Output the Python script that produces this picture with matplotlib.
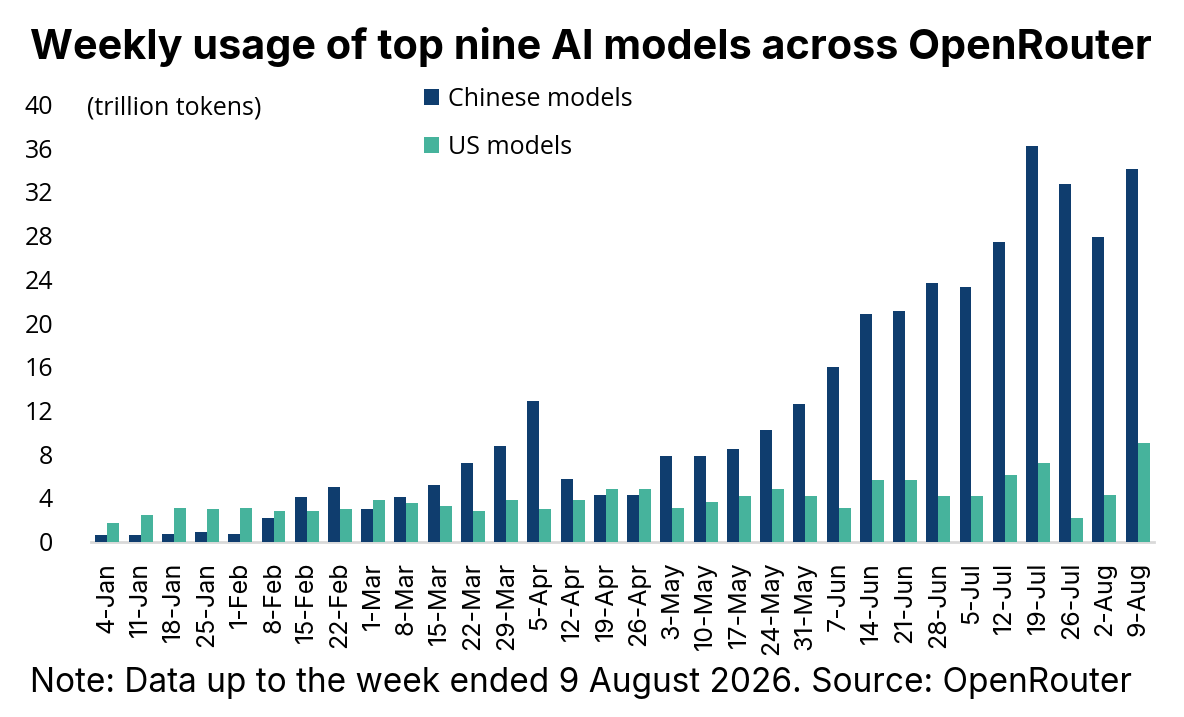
import numpy as np
import matplotlib as mpl
mpl.use("Agg")
from matplotlib import pyplot as plt

weeks = ["4-Jan", "11-Jan", "18-Jan", "25-Jan", "1-Feb", "8-Feb", "15-Feb", "22-Feb",
         "1-Mar", "8-Mar", "15-Mar", "22-Mar", "29-Mar", "5-Apr", "12-Apr", "19-Apr",
         "26-Apr", "3-May", "10-May", "17-May", "24-May", "31-May", "7-Jun", "14-Jun",
         "21-Jun", "28-Jun", "5-Jul", "12-Jul", "19-Jul", "26-Jul", "2-Aug", "9-Aug"]

# trillion tokens
chinese = [0.6, 0.6, 0.75, 0.85, 0.75, 2.15, 4.05, 5.05,
           2.95, 4.05, 5.2, 7.2, 8.75, 12.85, 5.75, 4.25,
           4.25, 7.85, 7.85, 8.5, 10.2, 12.6, 16.0, 20.8,
           21.15, 23.7, 23.3, 27.4, 36.2, 32.75, 27.9, 34.1]
us = [1.75, 2.45, 3.1, 2.95, 3.1, 2.85, 2.85, 2.95,
      3.85, 3.5, 3.25, 2.85, 3.85, 2.95, 3.85, 4.8,
      4.8, 3.1, 3.6, 4.15, 4.8, 4.15, 3.1, 5.6,
      5.6, 4.15, 4.15, 6.1, 7.2, 2.2, 4.25, 9.0]

yticks = list(range(0, 41, 4))

navy = "#0f3d6e"
teal = "#46b39c"
tick_font = "Open Sans"
text_font = "Inter"

W, H = 1184, 717
fig = plt.figure(figsize=(W / 100, H / 100), dpi=100)
ax = fig.add_axes([90.7 / W, 1 - 541.7 / H, (1154.3 - 90.7) / W, (541.7 - 104.5) / H])

x = np.arange(len(weeks))
bw = 0.36
ax.bar(x - bw / 2, chinese, bw, color=navy, label="Chinese models", zorder=3)
ax.bar(x + bw / 2, us, bw, color=teal, label="US models", zorder=3)

ax.set_xlim(-0.5, len(weeks) - 0.5)
ax.set_ylim(0, 40)
ax.set_yticks(yticks)
ax.set_xticks(x)
ax.set_xticklabels(weeks, rotation=90, fontsize=18, family=text_font)
for lab in ax.get_yticklabels():
    lab.set_fontfamily(tick_font)
    lab.set_fontsize(18)
ax.tick_params(axis="both", length=0)
ax.tick_params(axis="y", pad=27)
ax.tick_params(axis="x", pad=14.5)

for s in ["top", "right", "left"]:
    ax.spines[s].set_visible(False)
ax.spines["bottom"].set_color("#d9d9d9")
ax.spines["bottom"].set_linewidth(2)

fig.text(86.7 / W, 1 - 108 / H, "(trillion tokens)", family=tick_font, fontsize=18,
         va="center", ha="left")

ax.legend(loc="upper left", bbox_to_anchor=(424 / W, 1 - 87 / H),
          bbox_transform=fig.transFigure, frameon=False,
          prop={"family": tick_font, "size": 18},
          handlelength=0.6, handleheight=0.6, handletextpad=0.35,
          labelspacing=0.92, borderpad=0, borderaxespad=0)

fig.text(30 / W, 1 - 47 / H, "Weekly usage of top nine AI models across OpenRouter",
         family=text_font, fontweight="bold", fontsize=29.8, va="center", ha="left")
fig.text(30 / W, 1 - 683 / H,
         "Note: Data up to the week ended 9 August 2026. Source: OpenRouter",
         family=text_font, fontsize=24, va="center", ha="left")

fig.savefig("out.png", dpi=100)
